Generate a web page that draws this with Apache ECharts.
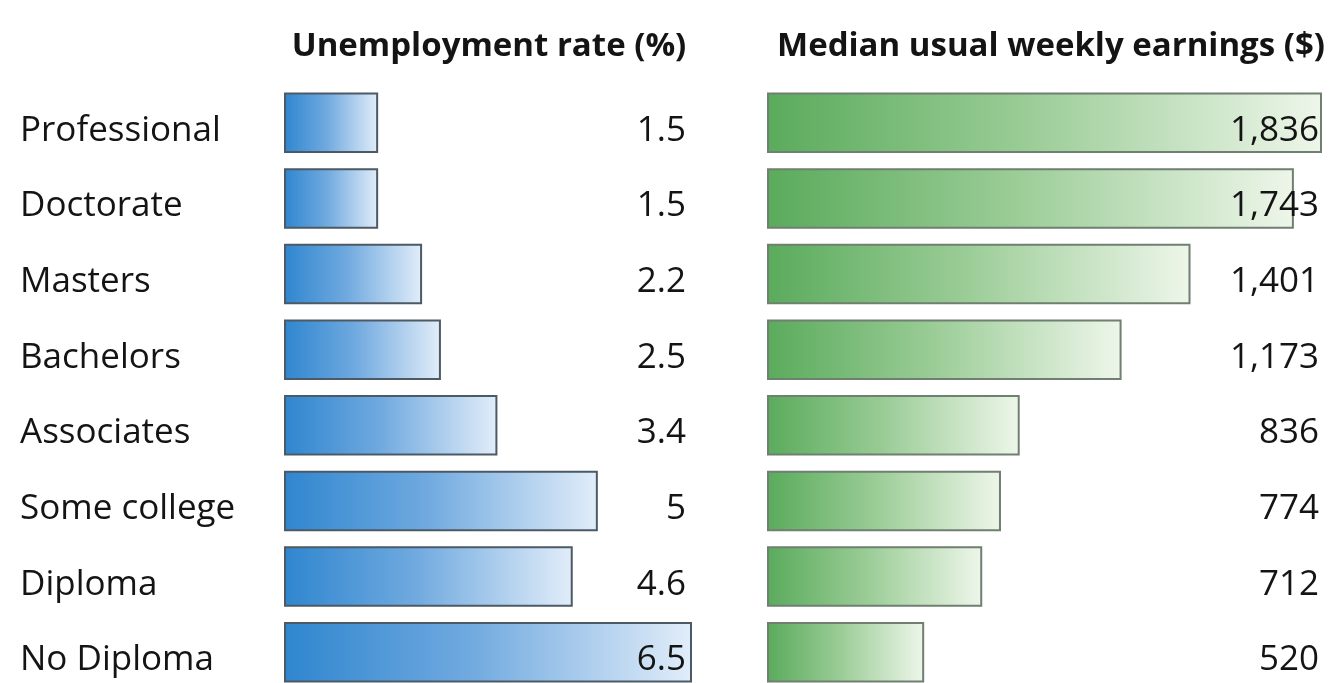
<!DOCTYPE html>
<html>
<head>
<meta charset="utf-8">
<script src="https://cdn.jsdelivr.net/npm/echarts@6/dist/echarts.min.js"></script>
<style>
  html, body { margin: 0; padding: 0; background: #ffffff; }
  #chart { width: 1336px; height: 683px; }
</style>
</head>
<body>
<div id="chart"></div>
<script>
// Education levels, top to bottom
const categories = ['Professional', 'Doctorate', 'Masters', 'Bachelors', 'Associates', 'Some college', 'Diploma', 'No Diploma'];
// Unemployment rate (%)
const unemployment = [1.5, 1.5, 2.2, 2.5, 3.4, 5, 4.6, 6.5];
// Median usual weekly earnings ($)
const earnings = [1836, 1743, 1401, 1173, 836, 774, 712, 520];
const titles = ['Unemployment rate (%)', 'Median usual weekly earnings ($)'];

const FONT = '"Open Sans", "Noto Sans", sans-serif';
const TEXT = '#141414';
const LABEL_SIZE = 35;

const chart = echarts.init(document.getElementById('chart'));

function grad(c0, c1, c2) {
  return new echarts.graphic.LinearGradient(0, 0, 1, 0, [
    { offset: 0, color: c0 },
    { offset: 0.45, color: c1 },
    { offset: 1, color: c2 }
  ]);
}

const catAxisBase = {
  type: 'category',
  data: categories,
  inverse: true,
  axisLine: { show: false },
  axisTick: { show: false },
  splitLine: { show: false }
};

// Row text sits a little below the bar centre
const rich = { t: { fontFamily: FONT, fontSize: LABEL_SIZE, color: TEXT, padding: [16, 0, 0, 0] } };
const wrap = s => '{t|' + s + '}';

chart.setOption({
  backgroundColor: '#ffffff',
  animation: false,
  title: [
    { text: titles[0], left: 484, top: 25, textAlign: 'center',
      textStyle: { fontFamily: FONT, fontSize: 33, fontWeight: 'bold', color: TEXT } },
    { text: titles[1], left: 1046, top: 25, textAlign: 'center',
      textStyle: { fontFamily: FONT, fontSize: 33, fontWeight: 'bold', color: TEXT } }
  ],
  grid: [
    { left: 284, width: 408, top: 85, height: 605, outerBoundsMode: 'none', containLabel: false },
    { left: 767, width: 555, top: 85, height: 605, outerBoundsMode: 'none', containLabel: false }
  ],
  xAxis: [
    { type: 'value', gridIndex: 0, min: 0, max: 6.5, show: false },
    { type: 'value', gridIndex: 1, min: 0, max: 1836, show: false }
  ],
  yAxis: [
    Object.assign({}, catAxisBase, {
      gridIndex: 0, position: 'left',
      axisLabel: { align: 'left', margin: 264, rich: rich, formatter: v => wrap(v) }
    }),
    Object.assign({}, catAxisBase, {
      gridIndex: 0, position: 'right', z: 5,
      axisLabel: { inside: true, margin: 6, rich: rich,
        formatter: (v, i) => wrap(String(unemployment[i])) }
    }),
    Object.assign({}, catAxisBase, {
      gridIndex: 1, position: 'left',
      axisLabel: { show: false }
    }),
    Object.assign({}, catAxisBase, {
      gridIndex: 1, position: 'right', z: 5,
      axisLabel: { inside: true, margin: 3, rich: rich,
        formatter: (v, i) => wrap(earnings[i].toLocaleString('en-US')) }
    })
  ],
  series: [
    {
      type: 'bar', xAxisIndex: 0, yAxisIndex: 0,
      data: unemployment,
      barCategoryGap: '20%',
      itemStyle: {
        color: grad('#2f86cf', '#6fa9df', '#e2edf9'),
        borderColor: '#4c5a66', borderWidth: 2
      }
    },
    {
      type: 'bar', xAxisIndex: 1, yAxisIndex: 2,
      data: earnings,
      barCategoryGap: '20%',
      itemStyle: {
        color: grad('#5aab5c', '#98cb94', '#eef6ea'),
        borderColor: '#6f7f70', borderWidth: 2
      }
    }
  ]
});
</script>
</body>
</html>
